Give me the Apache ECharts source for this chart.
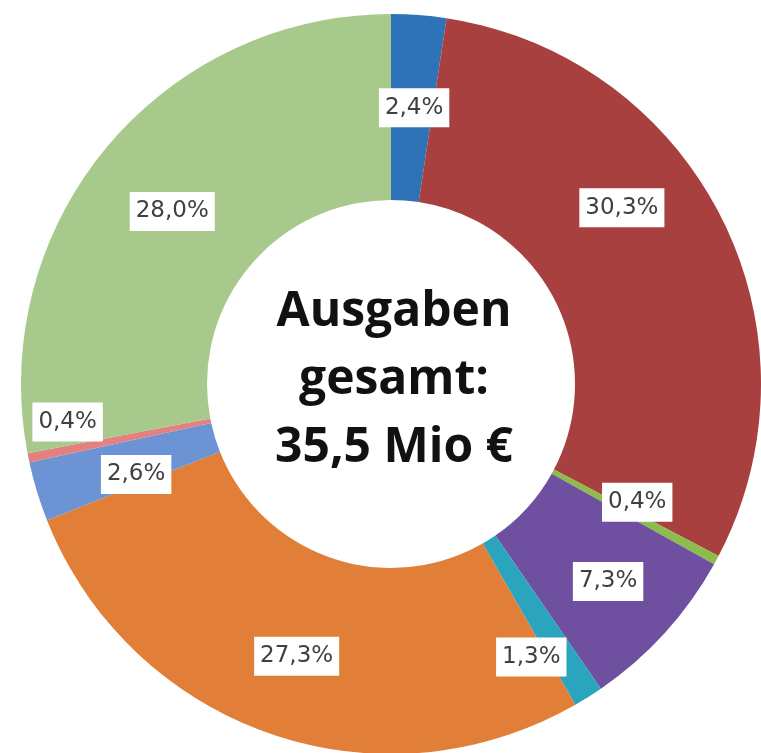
<!DOCTYPE html>
<html>
<head>
<meta charset="utf-8">
<script src="https://cdn.jsdelivr.net/npm/echarts@6/dist/echarts.min.js"></script>
<style>
  html, body { margin: 0; padding: 0; background: #fff; }
  #chart { width: 761px; height: 753px; }
</style>
</head>
<body>
<div id="chart"></div>
<script>
// shares of total spending, clockwise from 12 o'clock
const shares = [2.4, 30.3, 0.4, 7.3, 1.3, 27.3, 2.6, 0.4, 28.0]
const sliceColors = ['#2e73b8', '#a7403e', '#8cbd4c', '#6e4fa0', '#2ba4be', '#e17f38', '#6c93d4', '#e28180', '#a7ca8c']
const centerLines = ['Ausgaben', 'gesamt:', '35,5 Mio €']

// a few labels sit off the slice middle, like in the original
const labelShift = {
  0: [2, 3], 1: [-19, -50], 2: [0, -15], 3: [10, 9], 4: [-9, 36],
  5: [-2, 8], 6: [13, 9], 7: [-49, -18], 8: [-3, 6]
}

const chart = echarts.init(document.getElementById('chart'), null, { renderer: 'canvas' })

const data = shares.map((v, i) => {
  const item = { value: v, itemStyle: { color: sliceColors[i] } }
  if (labelShift[i]) item.label = { offset: labelShift[i] }
  return item
})

chart.setOption({
  animation: false,
  graphic: [{
    type: 'text',
    x: 394,
    y: 380,
    style: {
      text: centerLines.join('\n'),
      align: 'center',
      verticalAlign: 'middle',
      fontFamily: 'Open Sans',
      fontWeight: 'bold',
      fontSize: 48,
      lineHeight: 68,
      fill: '#111'
    }
  }],
  series: [{
    type: 'pie',
    center: [391, 384],
    radius: [184, 370],
    startAngle: 90,
    clockwise: true,
    avoidLabelOverlap: false,
    labelLayout: { hideOverlap: false },
    labelLine: { show: false },
    itemStyle: { borderWidth: 0 },
    label: {
      show: true,
      position: 'inside',
      formatter: p => p.value.toFixed(1).replace('.', ',') + '%',
      fontFamily: 'DejaVu Sans',
      fontSize: 23,
      color: '#404040',
      backgroundColor: '#fff',
      padding: [9, 6, 7, 6]
    },
    data: data
  }]
})
</script>
</body>
</html>
